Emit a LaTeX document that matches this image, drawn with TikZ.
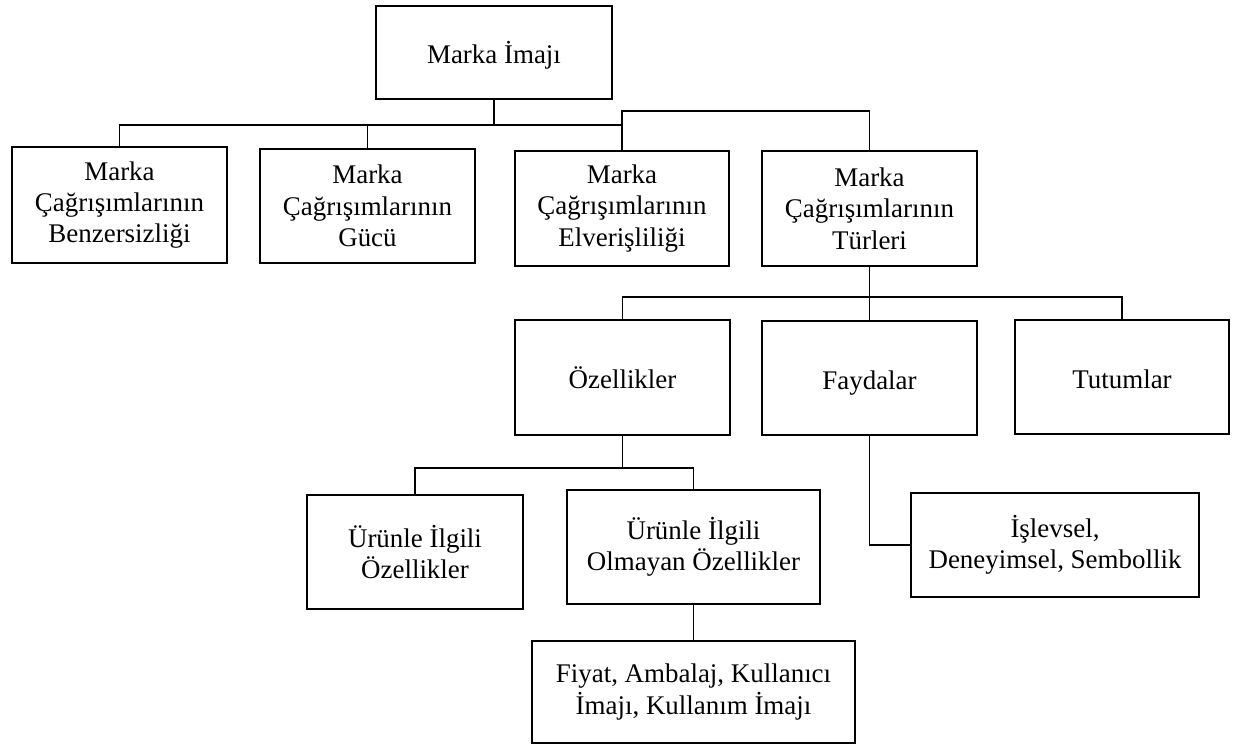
\documentclass[tikz,border=0pt]{standalone}
\usepackage{fontspec}
\setmainfont{Liberation Serif}
\begin{document}
\begin{tikzpicture}[x=0.75pt,y=-0.75pt,
  box/.style={draw=black,line width=1.4pt,rectangle,align=center,inner sep=0pt,
    font=\fontsize{20.2}{23.5}\selectfont},
  single/.style={text height=20pt,text depth=3.5pt},
  link/.style={draw=black,line width=1.4pt}]
\useasboundingbox[fill=white] (0,0) rectangle (1241,744);

% top level
\node[box,single,minimum width=177pt,minimum height=69.75pt] (top) at (494,52.5) {Marka İmajı};

% second level
\node[box,minimum width=161.25pt,minimum height=87pt]    (b1) at (119.5,205)  {Marka\\Çağrışımlarının\\Benzersizliği};
\node[box,minimum width=161.25pt,minimum height=85.5pt]  (b2) at (367.5,206)  {Marka\\Çağrışımlarının\\Gücü};
\node[box,minimum width=160.5pt,minimum height=86.25pt]  (b3) at (622,208.5)  {Marka\\Çağrışımlarının\\Elverişliliği};
\node[box,minimum width=161.25pt,minimum height=86.25pt] (b4) at (869.5,208.5) {Marka\\Çağrışımlarının\\Türleri};

% association types
\node[box,single,minimum width=161.25pt,minimum height=86.25pt] (oz)  at (622.5,377.5) {Özellikler};
\node[box,single,minimum width=161.25pt,minimum height=85.5pt]  (fay) at (869.5,378)   {Faydalar};
\node[box,single,minimum width=160.5pt,minimum height=85.5pt]   (tut) at (1122,377)    {Tutumlar};

% attributes and benefits
\node[box,minimum width=162pt,minimum height=85.5pt]    (u1)  at (415,552)    {Ürünle İlgili\\Özellikler};
\node[box,minimum width=189.75pt,minimum height=85.5pt] (u2)  at (693.5,547)  {Ürünle İlgili\\Olmayan Özellikler};
\node[box,minimum width=216pt,minimum height=78pt]      (isl) at (1055,545)   {İşlevsel,\\Deneyimsel, Sembollik};
\node[box,minimum width=242.25pt,minimum height=76.5pt] (fiy) at (693.5,692)  {Fiyat, Ambalaj, Kullanıcı\\İmajı, Kullanım İmajı};

% junction points
\coordinate (j1) at (494,125);
\coordinate (j2) at (622,111);
\coordinate (j3) at (869.5,297);
\coordinate (j4) at (622.5,468);

% connectors
\draw[link] (top.south) -- (j1);
\draw[link] (b1.north) |- (j1) -| (b3.north);
\draw[link] (b2.north) -- (b2.north |- j1);
\draw[link] (b3.north) -- (b3.north |- j2) -| (b4.north);

\draw[link] (b4.south) -- (fay.north);
\draw[link] (oz.north) |- (j3) -| (tut.north);

\draw[link] (oz.south) -- (j4);
\draw[link] (u1.north) |- (j4) -| (u2.north);
\draw[link] (u2.south) -- (fiy.north);

\draw[link] (fay.south) |- (isl.west);
\end{tikzpicture}
\end{document}
